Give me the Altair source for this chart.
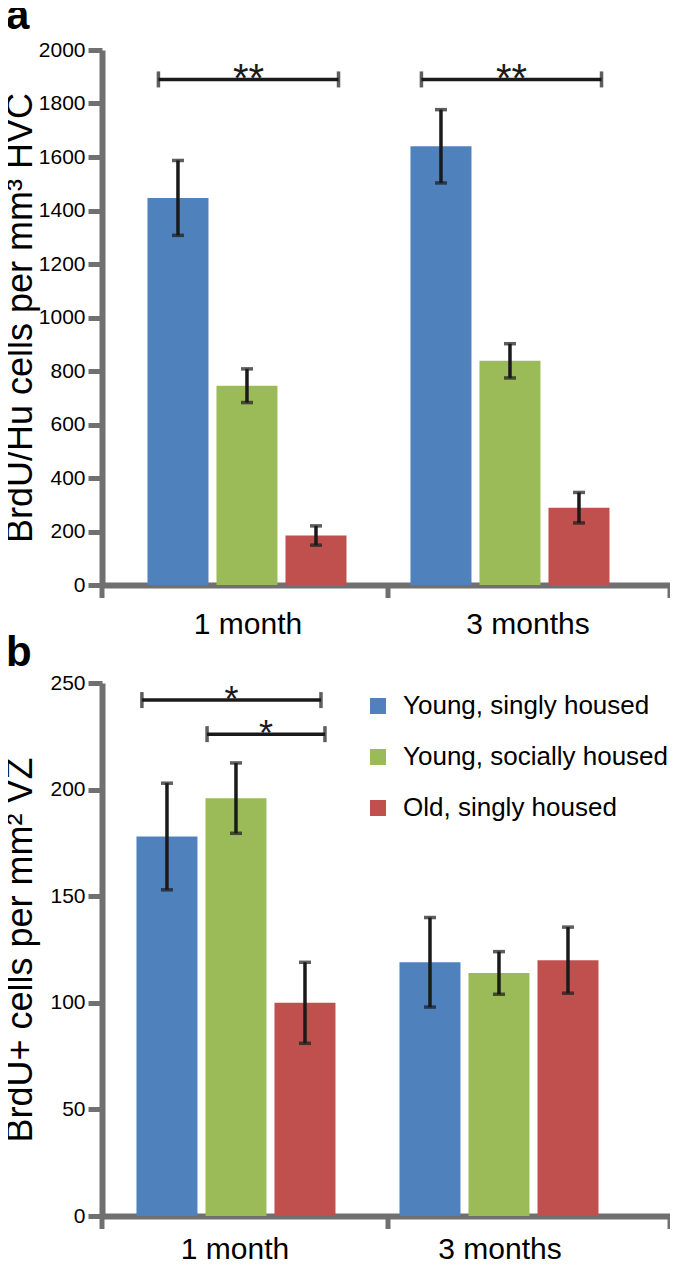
import altair as alt
import pandas as pd

categories = ["1 month", "3 months"]
groups = ["Young, singly housed", "Young, socially housed", "Old, singly housed"]
colors = ["#4f81bd", "#9bbb59", "#c0504d"]

# Panel a: BrdU/Hu cells per mm3 HVC
a_mean_1m = [1447, 745, 185]
a_sem_1m = [140, 63, 36]
a_mean_3m = [1640, 838, 289]
a_sem_3m = [137, 64, 57]
a_yticks = [0, 200, 400, 600, 800, 1000, 1200, 1400, 1600, 1800, 2000]
a_sig_cat = ["1 month", "3 months"]
a_sig_val = [1890, 1890]
a_sig_txt = ["**", "**"]

# Panel b: BrdU+ cells per mm2 VZ
b_mean_1m = [178, 196, 100]
b_sem_1m = [25, 16.5, 19]
b_mean_3m = [119, 114, 120]
b_sem_3m = [21, 10, 15.5]
b_yticks = [0, 50, 100, 150, 200, 250]
b_sig_cat = ["1 month", "1 month"]
b_sig_val = [242, 226]
b_sig_txt = ["*", "*"]

FONT = "Liberation Sans"
GRAY = "#707070"
DARK = "#1a1a1a"
W = 568


def make_df(m1, s1, m3, s3):
    rows = []
    for cat, ms, ss in [(categories[0], m1, s1), (categories[1], m3, s3)]:
        for g, m, s in zip(groups, ms, ss):
            rows.append({"cat": cat, "grp": g, "mean": m, "lo": m - s, "hi": m + s})
    return pd.DataFrame(rows)


def panel(df, H, ydomain, yticks, ytitle, letter, xsc, label_off, label_pad, brackets,
          star_size, legend, title_offset):
    xscale = alt.Scale(paddingInner=xsc[0], paddingOuter=xsc[1], align=xsc[2])
    xaxis = alt.Axis(
        title=None, labelAngle=0, ticks=False, domainColor=GRAY, domainWidth=6,
        labelFontSize=30, labelFont=FONT, labelColor="black", labelPadding=label_pad,
        labelOffset={"condition": {"test": "datum.value == '3 months'", "value": label_off[1]},
                     "value": label_off[0]},
    )
    yscale = alt.Scale(domain=ydomain, nice=False, zero=True)
    yaxis = alt.Axis(
        values=yticks, format="d", grid=False, domainColor=GRAY, domainWidth=6,
        tickColor=GRAY, tickWidth=5, tickSize=14, labelFontSize=21, labelFont=FONT,
        labelColor="black", labelPadding=3, titleFontSize=36, titleFont=FONT,
        titleFontWeight="normal", titleColor="black", titlePadding=1,
        minExtent=62, maxExtent=62,
    )

    def X(**kw):
        return alt.X("cat:N", sort=categories, scale=xscale, axis=xaxis, title=None, **kw)

    def Y(field):
        return alt.Y(field, scale=yscale, axis=yaxis, title=ytitle)

    xoff = alt.XOffset("grp:N", sort=groups,
                       scale=alt.Scale(paddingInner=0.116, paddingOuter=0))
    base = alt.Chart(df)
    bars = base.mark_bar().encode(
        x=X(), xOffset=xoff, y=Y("mean:Q"),
        color=alt.Color("grp:N", sort=groups,
                        scale=alt.Scale(domain=groups, range=colors), legend=legend),
    )
    err = base.mark_rule(color=DARK, strokeWidth=3.5).encode(
        x=X(), xOffset=xoff, y=Y("lo:Q"), y2="hi:Q")
    cap_lo = base.mark_tick(color=DARK, size=12, thickness=3.5).encode(
        x=X(), xOffset=xoff, y=Y("lo:Q"))
    cap_hi = base.mark_tick(color=DARK, size=12, thickness=3.5).encode(
        x=X(), xOffset=xoff, y=Y("hi:Q"))

    layers = [bars, err, cap_lo, cap_hi]

    for (cat, val, txt, s, e, ext) in brackets:
        d = pd.DataFrame({"cat": [cat], "val": [val], "txt": [txt]})
        bc = alt.Chart(d)
        layers.append(bc.mark_rule(color=DARK, strokeWidth=3.5, x2Offset=ext).encode(
            x=X(bandPosition=s), x2=alt.X2("cat:N", bandPosition=e), y=Y("val:Q")))
        layers.append(bc.mark_tick(color=DARK, orient="vertical", size=16, thickness=3.5).encode(
            x=X(bandPosition=s), y=Y("val:Q")))
        layers.append(bc.mark_tick(color=DARK, orient="vertical", size=16, thickness=3.5,
                                   xOffset=ext).encode(
            x=X(bandPosition=e), y=Y("val:Q")))
        layers.append(bc.mark_text(font=FONT, fontSize=star_size, color=DARK,
                                   baseline="alphabetic", dy=star_size * 0.32,
                                   dx=ext / 2).encode(
            x=X(bandPosition=(s + e) / 2), y=Y("val:Q"), text="txt:N"))

    tk = alt.Chart(pd.DataFrame({"k": [0]}))
    for xv in [0, 286, W]:
        layers.append(tk.mark_rule(color=GRAY, strokeWidth=5).encode(
            x=alt.value(xv), y=alt.value(H), y2=alt.value(H + 13)))

    return alt.layer(*layers).properties(
        width=W, height=H,
        title=alt.TitleParams(letter, anchor="start", frame="group", fontSize=42,
                              fontWeight="bold", font=FONT, color="black", dx=-96,
                              baseline="alphabetic", offset=title_offset),
    )


df_a = make_df(a_mean_1m, a_sem_1m, a_mean_3m, a_sem_3m)
df_b = make_df(b_mean_1m, b_sem_1m, b_mean_3m, b_sem_3m)

brackets_a = [(a_sig_cat[0], a_sig_val[0], a_sig_txt[0], 0.055, 0.96, 0),
              (a_sig_cat[1], a_sig_val[1], a_sig_txt[1], 0.055, 0.96, 0)]
brackets_b = [(b_sig_cat[0], b_sig_val[0], b_sig_txt[0], 0.03, 1.0, 3.5),
              (b_sig_cat[1], b_sig_val[1], b_sig_txt[1], 0.39, 1.0, 7.5)]

legend_b = alt.Legend(
    orient="none", legendX=263, legendY=10, title=None, symbolType="square",
    symbolSize=256, symbolStrokeWidth=0, labelFontSize=26, labelFont=FONT,
    labelColor="black", rowPadding=25, labelOffset=12, padding=0, labelLimit=500,
)

chart_a = panel(df_a, 535, [0, 2000], a_yticks, "BrdU/Hu cells per mm³ HVC", "a",
                (0.2433, 0.2015, 0.429), (1, 18), 24, brackets_a, 40, None, -32)
chart_b = panel(df_b, 533, [0, 250], b_yticks, "BrdU+ cells per mm² VZ", "b",
                (0.3118, 0.2357, 0.278), (8, 10), 18, brackets_b, 36, legend_b, -36)

chart = alt.vconcat(chart_a, chart_b, spacing=-7).resolve_scale(
    color="independent").resolve_legend(color="independent").properties(
    padding={"left": -6, "top": -13, "right": -3, "bottom": -2},
    background="white",
).configure_view(stroke=None)

chart.save("out.html", embed_options={"renderer": "svg", "actions": False})
